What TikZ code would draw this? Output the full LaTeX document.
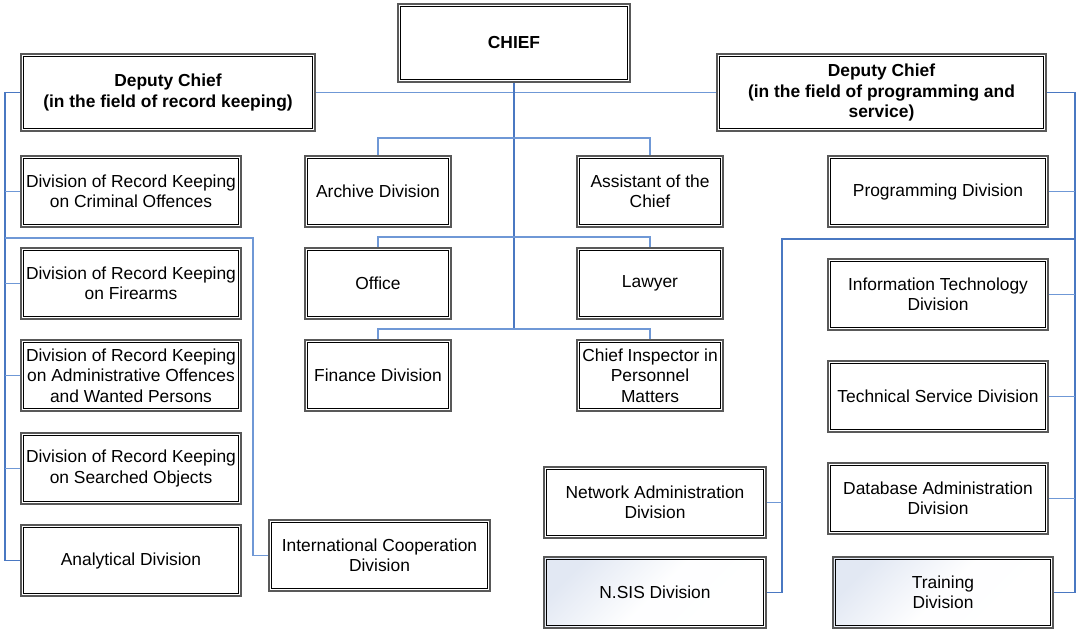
\documentclass[tikz,border=0pt]{standalone}
\usepackage{fontspec}
\setmainfont{Liberation Sans}
\definecolor{lnk}{HTML}{4A78C2}
\definecolor{lnklight}{HTML}{6F98D6}
\definecolor{shadeblue}{HTML}{E2E8F3}
\begin{document}
\begin{tikzpicture}[x=1pt,y=-1pt,
  box/.style={draw=black!65, line width=1.3pt,
    fill=white, inner sep=0pt, align=center, font=\fontsize{17.4}{20.5}\selectfont},
  inner/.style={draw=black, line width=1pt},
  boxw/.style={box, minimum width=220pt, minimum height=71pt},
  boxm/.style={box, minimum width=146pt, minimum height=71pt},
  shadedbox/.style={boxw, top color=shadeblue, bottom color=white, middle color=white!96!shadeblue, shading angle=45},
  bold/.style={font=\fontsize{17.4}{20.5}\selectfont\bfseries},
  link/.style={draw=lnk, line width=1.4pt},
  linkl/.style={draw=lnklight, line width=1.1pt}]
\useasboundingbox (0,0) rectangle (1076,629);

\coordinate (trunkend) at (514,329);
\coordinate (b1) at (514,138);
\coordinate (b2) at (514,237);
\coordinate (b3) at (514,329);
\coordinate (lt) at (5,92.5);
\coordinate (lb) at (5,238);
\coordinate (lc) at (253,238);
\coordinate (rt) at (1075,92.5);
\coordinate (rb) at (1075,239);
\coordinate (rc) at (782,239);

% nodes
\node[box, bold, minimum width=232pt, minimum height=78pt] (chief) at (514,43) {CHIEF};
\node[box, bold, minimum width=294pt, minimum height=77pt] (dl) at (168,92.5) {Deputy Chief\\(in the field of record keeping)};
\node[box, bold, minimum width=329pt, minimum height=77pt] (dr) at (881.5,92.5) {Deputy Chief\\(in the field of programming and\\service)};

\node[boxw] (crim) at (131,191.5) {Division of Record Keeping\\on Criminal Offences};
\node[boxw] (fire) at (131,283.5) {Division of Record Keeping\\on Firearms};
\node[boxw] (admin) at (131,375.5) {Division of Record Keeping\\on Administrative Offences\\and Wanted Persons};
\node[boxw] (search) at (131,468.5) {Division of Record Keeping\\on Searched Objects};
\node[boxw] (anal) at (131,560.5) {Analytical Division};
\node[boxw, minimum width=221pt] (intl) at (379.5,555.5) {International Cooperation\\Division};

\node[boxm] (archive) at (378,191.5) {Archive Division};
\node[boxm] (assist) at (650,191.5) {Assistant of the\\Chief};
\node[boxm] (office) at (378,283.5) {Office};
\node[boxm] (lawyer) at (650,283.5) {Lawyer};
\node[boxm] (finance) at (378,375.5) {Finance Division};
\node[boxm] (inspector) at (650,375.5) {Chief Inspector in\\Personnel\\Matters};

\node[boxw] (prog) at (938,191.5) {Programming Division};
\node[boxw] (it) at (938,294.5) {Information Technology\\Division};
\node[boxw] (tech) at (938,396.5) {Technical Service Division};
\node[boxw] (db) at (938,498.5) {Database Administration\\Division};
\node[shadedbox] (train) at (943,592.5) {Training\\Division};
\node[boxw, minimum width=222pt] (net) at (655,502.5) {Network Administration\\Division};
\node[shadedbox, minimum width=222pt] (nsis) at (655,592.5) {N.SIS Division};

% inner lines of the double borders
\foreach \n in {chief,dl,dr,crim,fire,admin,search,anal,intl,archive,assist,office,lawyer,finance,inspector,prog,it,tech,db,train,net,nsis}
  \draw[inner] ([shift={(3,3)}]\n.north west) rectangle ([shift={(-3,-3)}]\n.south east);

% connectors
\draw[linkl] (dl.east) -- (dr.west);
\draw[link] (chief.south) -- (trunkend);
\draw[linkl] (archive.north) |- (b1) -| (assist.north);
\draw[linkl] (office.north) |- (b2) -| (lawyer.north);
\draw[linkl] (finance.north) |- (b3) -| (inspector.north);

\draw[link] (dl.west) -- (lt) |- (anal.west);
\draw[linkl] (crim.west) -- (crim.west -| lt);
\draw[linkl] (fire.west) -- (fire.west -| lt);
\draw[linkl] (admin.west) -- (admin.west -| lt);
\draw[linkl] (search.west) -- (search.west -| lt);
\draw[linkl] (lb) -- (lc) |- (intl.west);

\draw[link] (dr.east) -- (rt) |- (train.east);
\draw[linkl] (prog.east) -- (prog.east -| rt);
\draw[linkl] (it.east) -- (it.east -| rt);
\draw[linkl] (tech.east) -- (tech.east -| rt);
\draw[linkl] (db.east) -- (db.east -| rt);
\draw[link] (rb) -- (rc) |- (nsis.east);
\draw[linkl] (net.east) -- (net.east -| rc);
\end{tikzpicture}
\end{document}
